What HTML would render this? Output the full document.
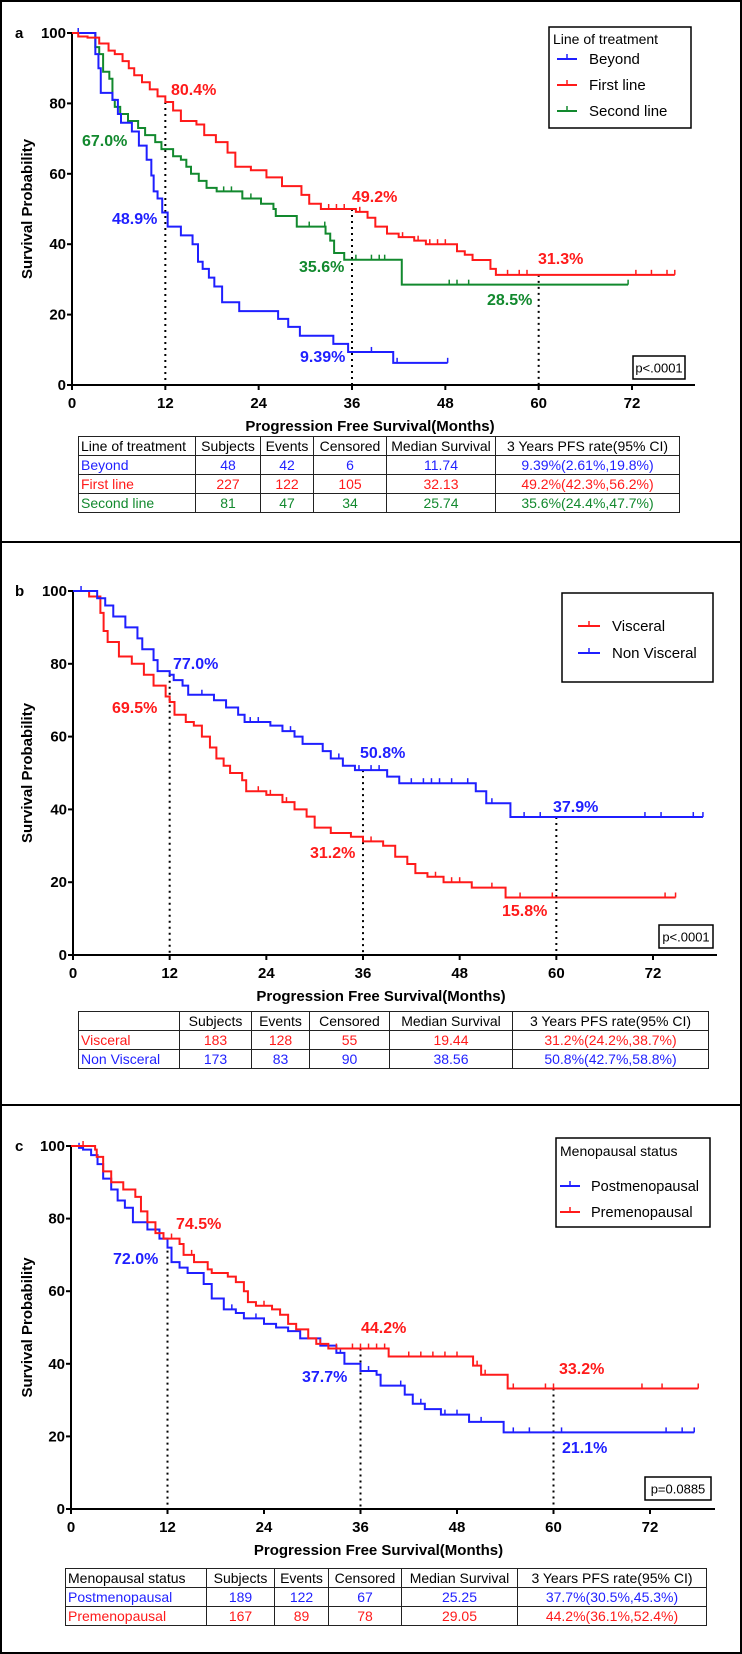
<!DOCTYPE html>
<html><head><meta charset="utf-8">
<style>
html,body{margin:0;padding:0;background:#fff;}
body{width:742px;height:1654px;position:relative;overflow:hidden;font-family:"Liberation Sans",Arial,sans-serif;}
#frame{position:absolute;left:0;top:0;width:738px;height:1650px;border:2px solid #000;}
.sep{position:absolute;left:0;width:742px;height:2px;background:#000;}
svg{position:absolute;left:0;top:0;}
table.km{position:absolute;border-collapse:collapse;font-size:14px;table-layout:fixed;}
table.km td{border:1.5px solid #222;padding:0 2px;height:18px;line-height:18px;white-space:nowrap;overflow:hidden;text-align:center;}
table.km td:first-child{text-align:left;}
.blue{color:#1f1fff}.red{color:#ff1a1a}.green{color:#12892e}
</style></head>
<body>
<div id="frame"></div>
<div class="sep" style="top:541px"></div>
<div class="sep" style="top:1104px"></div>
<svg id="chart" width="742" height="1654"></svg>

<table class="km" style="left:78px;top:436px;width:601px">
<colgroup><col style="width:117px"><col style="width:65px"><col style="width:53px"><col style="width:73px"><col style="width:109px"><col style="width:184px"></colgroup>
<tr><td>Line of treatment</td><td>Subjects</td><td>Events</td><td>Censored</td><td>Median Survival</td><td>3 Years PFS rate(95% CI)</td></tr>
<tr class="blue"><td>Beyond</td><td>48</td><td>42</td><td>6</td><td>11.74</td><td>9.39%(2.61%,19.8%)</td></tr>
<tr class="red"><td>First line</td><td>227</td><td>122</td><td>105</td><td>32.13</td><td>49.2%(42.3%,56.2%)</td></tr>
<tr class="green"><td>Second line</td><td>81</td><td>47</td><td>34</td><td>25.74</td><td>35.6%(24.4%,47.7%)</td></tr>
</table>

<table class="km" style="left:78px;top:1011px;width:630px">
<colgroup><col style="width:101px"><col style="width:72px"><col style="width:58px"><col style="width:80px"><col style="width:123px"><col style="width:196px"></colgroup>
<tr><td></td><td>Subjects</td><td>Events</td><td>Censored</td><td>Median Survival</td><td>3 Years PFS rate(95% CI)</td></tr>
<tr class="red"><td>Visceral</td><td>183</td><td>128</td><td>55</td><td>19.44</td><td>31.2%(24.2%,38.7%)</td></tr>
<tr class="blue"><td>Non Visceral</td><td>173</td><td>83</td><td>90</td><td>38.56</td><td>50.8%(42.7%,58.8%)</td></tr>
</table>

<table class="km" style="left:65px;top:1568px;width:641px">
<colgroup><col style="width:141px"><col style="width:68px"><col style="width:54px"><col style="width:73px"><col style="width:116px"><col style="width:189px"></colgroup>
<tr><td>Menopausal status</td><td>Subjects</td><td>Events</td><td>Censored</td><td>Median Survival</td><td>3 Years PFS rate(95% CI)</td></tr>
<tr class="blue"><td>Postmenopausal</td><td>189</td><td>122</td><td>67</td><td>25.25</td><td>37.7%(30.5%,45.3%)</td></tr>
<tr class="red"><td>Premenopausal</td><td>167</td><td>89</td><td>78</td><td>29.05</td><td>44.2%(36.1%,52.4%)</td></tr>
</table>

<script>
// ---- data (months, survival %) ----
const xTicks = [0,12,24,36,48,60,72];
const yTicks = [0,20,40,60,80,100];
const markTimes = [12,36,60];

const aBeyondT = [3.0,3.4,3.7,5.2,5.9,6.3,7.7,8.6,9.6,10.2,10.5,11.0,11.6,12.3,14.0,15.5,16.2,16.8,17.6,18.3,19.3,21.5,26.5,27.8,29.3,33.6,35.5,41.3];
const aBeyondS = [94,90,83,81,77,74.5,72,68,64,59.5,55,53,49,45,42.5,40,35,33,30.5,28,23.5,21,18.8,16.5,14,11.7,9.39,6.3];
const aBeyondEnd = 48.3;
const aBeyondC = [0.8,38.5,41.8,48.3];

const aFirstT = [0.8,2.0,3.5,4.7,5.5,6.5,7.3,8.0,9.0,10.0,11.0,12.0,13.0,14.0,16.0,17.0,18.5,20.0,21.0,23.0,25.0,27.0,29.5,30.5,32.0,36.5,38.0,39.0,40.5,42.0,44.0,45.5,49.5,50.5,51.5,53.8,54.5];
const aFirstS = [99,98.7,97,95,94,92,90,88,86,84,82,80.4,78,75,74,71,69,66,62,61,59,56.5,54,51.5,50,49.2,47.5,45,43,42,41,40,38,37,35.5,33,31.3];
const aFirstEnd = 77.5;
const aFirstC = [33,34,35,37,42.5,44.5,46,47,48,56,57.5,58.5,72.5,74.5,76.5,77.5];

const aSecondT = [3.0,3.5,4.0,4.8,5.2,5.5,6.2,7.2,8.5,9.4,10.7,11.5,13.0,14.0,14.7,15.3,16.3,17.3,18.6,21.9,24.3,25.9,26.2,28.9,32.6,33.2,33.7,35.0,42.4];
const aSecondS = [96,94,89,87,81,79,77,75,73,71,69,67,65,64,62,60,58,56,55,53,51.5,50,48,45,43,41,37.5,35.6,28.5];
const aSecondEnd = 71.5;
const aSecondC = [19.5,20.5,23,30.5,32.5,36.5,38.5,39.5,40.2,48.5,49.5,51,71.5];

const bVisT = [2.0,3.4,3.8,4.3,5.7,7.3,8.8,10.0,11.5,12.0,12.6,14.0,15.0,16.0,17.0,17.8,18.7,19.5,21.0,21.5,24.0,26.0,27.5,29.0,30.0,32.0,34.5,36.0,38.5,40.0,41.5,42.5,44.0,46.0,49.5,53.7];
const bVisS = [98.5,94,89,86,82,80,77,74,71,69.5,66,64,63,60,57,54,52,50,48,45,44,42,40,38,35,33.5,32.5,31.2,30,27,25,22.5,21.5,20,18.5,15.8];
const bVisEnd = 74.8;
const bVisC = [23,24.5,26.5,37,45,47,48,52,55.5,59.5,73.5,74.8];

const bNonT = [3.0,4.0,5.0,6.5,8.0,8.6,10.0,10.5,12.0,12.5,13.6,14.3,17.5,19.0,20.5,21.3,24.5,26.0,27.5,28.5,31.0,32.0,33.5,35.0,39.0,40.5,50.0,51.3,54.3];
const bNonS = [98,96,93,90,87,84,81,78,77,75.5,74,71.5,70,68,66,64,63,61.5,60,58,56,54,52,50.8,49,47.2,45,41.7,37.9];
const bNonEnd = 78.2;
const bNonC = [1,16,22,23,27,33,35.5,37,38,39,42,43.5,44.5,45.5,47,49,52,56,58,71,73,77,78.2];

const cPostT = [1.0,1.5,2.5,3.3,4.0,5.0,5.8,6.7,7.7,9.5,11.0,12.0,12.5,13.5,14.5,16.5,17.5,19.0,20.5,21.5,24.0,25.5,27.0,28.5,31.0,33.0,34.0,36.0,38.0,38.5,41.5,42.5,44.0,46.0,49.5,53.8];
const cPostS = [99.5,99,97.5,95,91,88,85,83,79,77,74.5,72,68,66.5,65,62,58,55,54,52.5,51,50,49,47,45,43,40,38,37,34,31.5,29,27.5,26,24,21.1];
const cPostEnd = 77.5;
const cPostC = [1,20,23,28,33.5,37,41,43.5,46.5,48,49.5,51,55,57,61,74,76,77.5];

const cPreT = [3.0,3.2,4.0,5.0,6.5,8.0,8.7,9.5,10.5,11.5,13.5,14.0,15.3,17.0,17.5,19.5,20.5,21.5,22.0,23.0,25.0,26.0,27.0,28.0,29.5,30.5,32.0,39.5,50.0,51.0,54.3];
const cPreS = [99,97,93,90,88,86,82,79,76,74.5,73,70,68,66,65,64,62.5,60,57,56,55,53.5,51,49.5,47,45.5,44.2,42,39.5,37,33.2];
const cPreEnd = 78;
const cPreC = [1.5,12.5,15,24,31,33,35,36,37,38,39,42,43.5,45,46.5,48,50.5,51.5,55,59,60,71,73.5,78];

const NS='http://www.w3.org/2000/svg';
const svg=document.getElementById('chart');
function el(tag,attrs,parent){const e=document.createElementNS(NS,tag);for(const k in attrs)e.setAttribute(k,attrs[k]);(parent||svg).appendChild(e);return e;}
function txt(s,attrs,parent){const e=el('text',attrs,parent);e.textContent=s;return e;}
function survAt(T,S,t){let s=100;for(let i=0;i<T.length;i++){if(T[i]<=t)s=S[i];}return s;}

function panel(P){
  const X=t=>P.x0+t*(P.x72-P.x0)/72;
  const Y=v=>P.y0-v*(P.y0-P.y100)/100;
  const g=el('g',{});
  
  
  const ax=el('path',{d:`M${P.x0} ${Y(100)-1}V${P.y0}H${P.xEnd}`,stroke:'#000','stroke-width':2,fill:'none'},g);
  
  
  xTicks.forEach(t=>{
    el('line',{x1:X(t),x2:X(t),y1:P.y0,y2:P.y0+5,stroke:'#000','stroke-width':2},g);
    const l=txt(String(t),{x:X(t),y:P.y0+23,'text-anchor':'middle','font-size':15,'font-weight':'bold'},g);
    
    
  });
  yTicks.forEach(v=>{
    el('line',{x1:P.x0-5,x2:P.x0,y1:Y(v),y2:Y(v),stroke:'#000','stroke-width':2},g);
    const l=txt(String(v),{x:P.x0-6,y:Y(v)+5,'text-anchor':'end','font-size':15,'font-weight':'bold'},g);
    
    
  });
  const pl=txt(P.letter,{x:15,y:Y(100)+5,'font-size':15,'font-weight':'bold'},g);
  
  
  const xt=txt('Progression Free Survival(Months)',{x:(P.x0+P.x72)/2+18,y:P.y0+46,'text-anchor':'middle','font-size':15,'font-weight':'bold'},g);
  
  
  const yc=(P.y0+Y(100))/2;
  const yt=txt('Survival Probability',{x:0,y:0,transform:`translate(32 ${yc}) rotate(-90)`,'text-anchor':'middle','font-size':15,'font-weight':'bold'},g);
  
  
  markTimes.forEach(t=>{
    const top=Math.max(...P.series.filter(s=>s.end>=t).map(s=>survAt(s.T,s.S,t)));
    const d=el('line',{x1:X(t),x2:X(t),y1:Y(top),y2:P.y0,stroke:'#000','stroke-width':2,'stroke-dasharray':'2 4'},g);
    
    
  });
  P.series.forEach(s=>{
    let d=`M${X(0)} ${Y(100)}`;
    for(let i=0;i<s.T.length;i++){d+=`H${X(s.T[i])}V${Y(s.S[i])}`;}
    d+=`H${X(s.end)}`;
    const p=el('path',{d:d,stroke:s.color,'stroke-width':2,fill:'none'},g);
    
    
    s.C.forEach(t=>{
      const v=survAt(s.T,s.S,t);
      const c=el('line',{x1:X(t),x2:X(t),y1:Y(v)-5,y2:Y(v),stroke:s.color,'stroke-width':1.5},g);
      
      
    });
  });
  P.labels.forEach(a=>{
    const l=txt(a[0],{x:a[1],y:a[2]+6,'font-size':16,'font-weight':'bold',fill:a[3]},g);
    
    
  });
  const L=P.legend;
  const lb=el('rect',{x:L.x,y:L.y,width:L.w,height:L.h,fill:'#fff',stroke:'#000','stroke-width':1.5},g);
  
  
  if(L.title){const t=txt(L.title,{x:L.x+4,y:L.titleY+5,'font-size':14},g);
    
    }
  L.items.forEach(it=>{
    el('line',{x1:L.lx1,x2:L.lx2,y1:it[1],y2:it[1],stroke:it[2],'stroke-width':2},g);
    el('line',{x1:(L.lx1+L.lx2)/2,x2:(L.lx1+L.lx2)/2,y1:it[1]-5,y2:it[1],stroke:it[2],'stroke-width':1.5},g);
    const t=txt(it[0],{x:L.tx,y:it[1]+5,'font-size':L.fs},g);
    
    
  });
  const pb=el('rect',{x:P.pbox[0],y:P.pbox[1],width:P.pbox[2],height:P.pbox[3],fill:'#fff',stroke:'#000','stroke-width':1.5},g);
  
  
  const pt=txt(P.pval,{x:P.pbox[0]+P.pbox[2]/2,y:P.pbox[1]+P.pbox[3]/2+5,'text-anchor':'middle','font-size':13},g);
  
  
}

const BLUE='#1f1fff',RED='#ff1a1a',GREEN='#12892e';
panel({id:'panel-a',letter:'a',x0:72,x72:632,xEnd:695,y100:33,y0:385,
  series:[
    {key:'second-line',T:aSecondT,S:aSecondS,end:aSecondEnd,C:aSecondC,color:GREEN},
    {key:'beyond',T:aBeyondT,S:aBeyondS,end:aBeyondEnd,C:aBeyondC,color:BLUE},
    {key:'first-line',T:aFirstT,S:aFirstS,end:aFirstEnd,C:aFirstC,color:RED}],
  labels:[['80.4%',171,89,RED],['67.0%',82,140,GREEN],['49.2%',352,196,RED],['48.9%',112,218,BLUE],['35.6%',299,266,GREEN],['31.3%',538,258,RED],['28.5%',487,299,GREEN],['9.39%',300,356,BLUE]],
  legend:{x:549,y:27,w:142,h:101,title:'Line of treatment',titleY:39,lx1:557,lx2:577,tx:589,fs:15,items:[['Beyond',59,BLUE],['First line',85,RED],['Second line',111,GREEN]]},
  pbox:[633,356,52,23],pval:'p<.0001'});

panel({id:'panel-b',letter:'b',x0:73,x72:653,xEnd:717,y100:591,y0:955,
  series:[
    {key:'visceral',T:bVisT,S:bVisS,end:bVisEnd,C:bVisC,color:RED},
    {key:'non-visceral',T:bNonT,S:bNonS,end:bNonEnd,C:bNonC,color:BLUE}],
  labels:[['77.0%',173,663,BLUE],['69.5%',112,707,RED],['50.8%',360,752,BLUE],['31.2%',310,852,RED],['37.9%',553,806,BLUE],['15.8%',502,910,RED]],
  legend:{x:562,y:593,w:151,h:89,lx1:578,lx2:600,tx:612,fs:15,items:[['Visceral',626,RED],['Non Visceral',653,BLUE]]},
  pbox:[659,925,54,23],pval:'p<.0001'});

panel({id:'panel-c',letter:'c',x0:71,x72:650,xEnd:715,y100:1146,y0:1509,
  series:[
    {key:'postmenopausal',T:cPostT,S:cPostS,end:cPostEnd,C:cPostC,color:BLUE},
    {key:'premenopausal',T:cPreT,S:cPreS,end:cPreEnd,C:cPreC,color:RED}],
  labels:[['74.5%',176,1223,RED],['72.0%',113,1258,BLUE],['44.2%',361,1327,RED],['37.7%',302,1376,BLUE],['33.2%',559,1368,RED],['21.1%',562,1447,BLUE]],
  legend:{x:556,y:1138,w:154,h:89,title:'Menopausal status',titleY:1151,lx1:560,lx2:580,tx:591,fs:14.5,items:[['Postmenopausal',1186,BLUE],['Premenopausal',1212,RED]]},
  pbox:[645,1477,66,23],pval:'p=0.0885'});
</script>
</body></html>
